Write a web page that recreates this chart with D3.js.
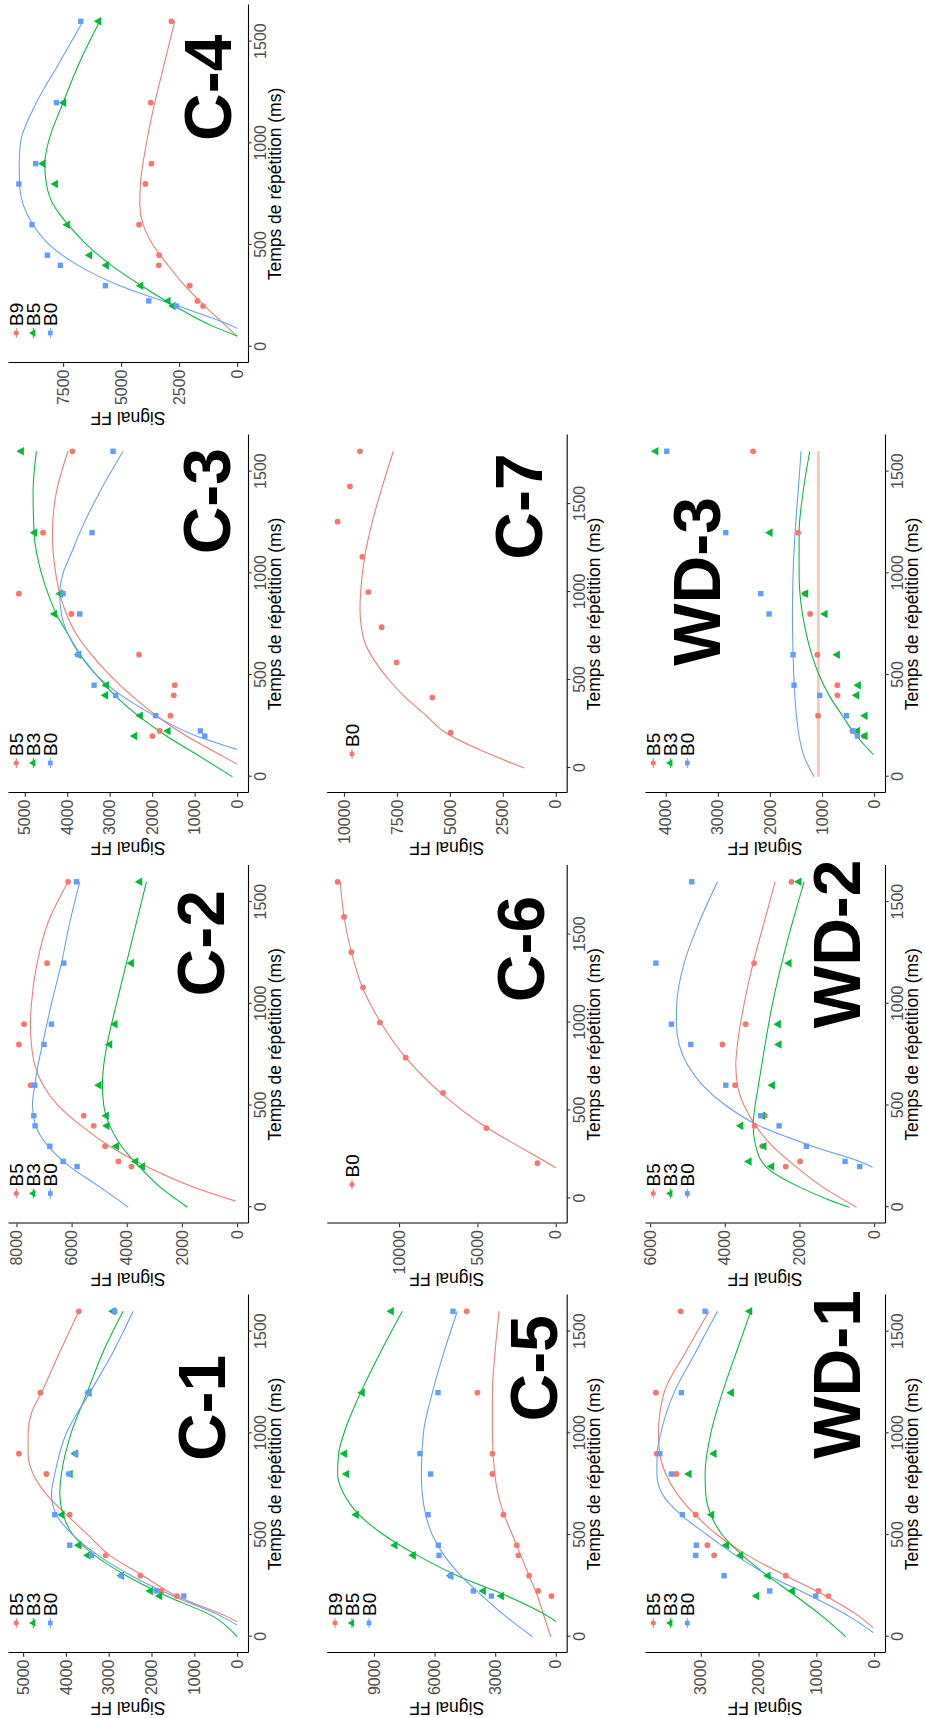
<!DOCTYPE html>
<html><head><meta charset="utf-8">
<script src="https://cdn.jsdelivr.net/npm/d3@7"></script>
<style>
body{margin:0;background:#fff}
svg{display:block}
text{font-family:"Liberation Sans",Arial,Helvetica,sans-serif}
</style>
</head><body>
<svg id="chart" width="925" height="1718"></svg>
<script>
// ---------- DATA ----------
const trA = [200,225,300,400,450,600,800,900,1200,1600];
const trB = [200,400,600,800,1000,1200,1400,1600,1800];
const rangeA = [0,1600];
const rangeB = [-50,1800];
const xTickVals = [0,500,1000,1500];
const levels3 = ["B5","B3","B0"];
const levels3b = ["B9","B5","B0"];
const levels1 = ["B0"];
const xTitle = "Temps de répétition (ms)";
const yTitle = "Signal FF";

// C-1
const c1_B5 = [1402,1768,2259,3069,3676,3910,4455,5098,4595,3699];
const c1_B3 = [1807,2025,2702,3481,3699,4089,3900,3780,3458,2897];
const c1_B0 = [1246,1885,2702,3403,3910,4260,3925,3769,3481,2858];
const c1_fB5 = [[74,0],[100,250],[200,1417],[300,2196],[400,2975],[500,3481],[600,3988],[700,4455],[800,4766],[900,4883],[1000,4883],[1100,4805],[1200,4572],[1400,4143],[1600,3699]];
const c1_fB3 = [[0,0],[100,561],[200,1651],[300,2586],[400,3326],[500,3832],[600,4065],[700,4143],[800,4104],[1000,3880],[1200,3505],[1400,3131],[1600,2664]];
const c1_fB0 = [[57,0],[100,366],[200,1495],[300,2469],[400,3248],[500,3832],[600,4221],[700,4338],[800,4260],[1000,3990],[1200,3442],[1400,2897],[1600,2430]];
const c1_yTicks = [0,1000,2000,3000,4000,5000];
const c1_label = [1125,848];

// C-2
const c2_B5 = [3831,4303,4786,5197,5560,7481,7911,7723,6889,6128];
const c2_B3 = [3432,3674,4375,4713,4738,5004,4617,4423,3831,3529];
const c2_B0 = [5801,6309,6792,7324,7372,7336,7000,6732,6285,5825];
const c2_fB5 = [[30,50],[100,1600],[200,3287],[300,4617],[400,5644],[500,6490],[600,7034],[700,7336],[800,7457],[900,7493],[1000,7457],[1200,7252],[1400,6853],[1600,6128]];
const c2_fB3 = [[0,1800],[100,2800],[200,3553],[300,4194],[400,4617],[500,4834],[600,4883],[700,4834],[800,4714],[1000,4375],[1200,4013],[1400,3650],[1600,3287]];
const c2_fB0 = [[0,3952],[100,4979],[200,6067],[300,6853],[400,7300],[500,7421],[600,7336],[700,7215],[800,7058],[1000,6732],[1200,6369],[1400,6067],[1600,5705]];
const c2_yTicks = [0,2000,4000,6000,8000];
const c2_label = [1298,1352];

// C-3
const c3_B5 = [1994,1821,1570,1491,1468,2308,3901,5137,4568,3878];
const c3_B3 = [2410,1625,2276,3093,3077,3728,4294,4160,4765,5078];
const c3_B0 = [761,863,1915,2857,3367,3744,3705,4097,3414,2920];
const c3_fB5 = [[62,0],[100,330],[200,1193],[300,1900],[400,2488],[500,2998],[600,3430],[700,3783],[800,4019],[900,4176],[1000,4270],[1200,4348],[1400,4254],[1600,3980]];
const c3_fB3 = [[0,110],[100,879],[200,1664],[300,2331],[400,2881],[500,3312],[600,3689],[700,3980],[800,4254],[900,4451],[1000,4607],[1200,4780],[1400,4804],[1600,4725]];
const c3_fB0 = [[134,0],[200,958],[300,1939],[400,2724],[500,3312],[600,3705],[700,3980],[800,4137],[900,4176],[1000,4097],[1100,3901],[1200,3705],[1400,3234],[1600,2684]];
const c3_yTicks = [0,1000,2000,3000,4000,5000];
const c3_label = [1355,725];

// C-4
const c4_B9 = [1466,1710,2040,3376,3362,4224,3951,3693,3721,2830];
const c4_B5 = [2759,2974,4152,5632,6351,7313,7830,8362,7471,5963];
const c4_B0 = [2615,3807,5675,7615,8175,8836,9404,8678,7787,6739];
const c4_fB9 = [[50,0],[100,460],[200,1394],[300,2256],[400,2974],[500,3621],[600,4052],[700,4195],[800,4167],[1000,3908],[1200,3549],[1400,3118],[1600,2687]];
const c4_fB5 = [[53,0],[100,1034],[200,2687],[300,4124],[400,5417],[500,6466],[600,7284],[700,7931],[800,8218],[900,8290],[1000,8147],[1200,7500],[1400,6782],[1600,5920]];
const c4_fB0 = [[90,0],[100,172],[200,2543],[300,5057],[400,6853],[500,8075],[600,8793],[700,9224],[800,9380],[900,9390],[1000,9340],[1200,8649],[1400,7644],[1600,6638]];
const c4_yTicks = [0,2500,5000,7500];
const c4_label = [1273,1284];

// C-5
const c5_B9 = [215,875,1321,1849,1932,2592,3137,3137,3880,4409];
const c5_B5 = [2692,3583,5201,7051,7959,9874,10353,10452,9577,8141];
const c5_B0 = [3187,4079,5201,5779,5812,6324,6192,6721,5829,5086];
const c5_fB9 = [[0,248],[100,578],[200,908],[300,1321],[400,1734],[500,2147],[600,2559],[700,2857],[800,3022],[1000,3137],[1200,3137],[1400,3005],[1600,2807]];
const c5_fB5 = [[75,0],[100,380],[200,2394],[300,4871],[400,6853],[500,8504],[600,9742],[700,10485],[800,10800],[900,10750],[1000,10485],[1200,9660],[1400,8669],[1600,7596]];
const c5_fB0 = [[0,1156],[100,2477],[200,3633],[300,4706],[400,5532],[500,6110],[600,6440],[700,6605],[800,6655],[1000,6555],[1200,6110],[1400,5532],[1600,4871]];
const c5_yTicks = [0,3000,6000,9000];
const c5_label = [1320,1114];

// C-6
const c6_B0 = [1170,4426,7191,9574,11213,12298,13043,13511,13920];
const c6_fB0 = [[174,0],[200,489],[300,2447],[400,4362],[600,7340],[800,9574],[1000,11170],[1200,12340],[1400,13043],[1600,13511],[1800,13750]];
const c6_yTicks = [0,5000,10000];
const c6_label = [1418,2285];

// C-7
const c7_B0 = [4961,5827,7512,8220,8850,9134,10300,9717,9244];
const c7_fB0 = [[0,1496],[100,3543],[200,5197],[300,6142],[400,7087],[500,7874],[600,8504],[700,8976],[800,9181],[900,9244],[1000,9213],[1200,9024],[1400,8661],[1600,8189],[1800,7669]];
const c7_yTicks = [0,2500,5000,7500,10000];
const c7_label = [1486,1771];

// WD-1
const wd1_B5 = [791,964,1529,2770,2885,3087,3422,3762,3777,3347];
const wd1_B3 = [2031,1414,1835,2308,2556,2810,3203,2770,2470,2152];
const wd1_B0 = [1010,1806,2597,3087,3076,3318,3508,3710,3335,2926];
const wd1_fB5 = [[45,17],[100,260],[200,837],[300,1529],[400,2193],[500,2712],[600,3099],[700,3405],[800,3606],[900,3710],[1000,3733],[1200,3635],[1400,3260],[1600,2856]];
const wd1_fB3 = [[0,490],[100,894],[200,1356],[300,1846],[400,2279],[500,2626],[600,2827],[700,2914],[800,2926],[1000,2827],[1200,2626],[1400,2383],[1600,2135]];
const wd1_fB0 = [[21,17],[100,433],[200,1096],[300,1818],[400,2395],[500,2885],[600,3347],[700,3664],[800,3760],[900,3755],[1000,3693],[1200,3462],[1400,3087],[1600,2712]];
const wd1_yTicks = [0,1000,2000,3000];
const wd1_label = [1290,651];

// WD-2
const wd2_B5 = [2366,1982,2991,3200,2929,3723,4063,3438,3214,2214];
const wd2_B3 = [2741,3348,2950,3571,2991,2723,2545,2563,2277,2009];
const wd2_B0 = [384,777,1813,2545,3036,3973,4911,5429,5845,4884];
const wd2_fB5 = [[0,470],[100,1384],[200,2098],[300,2723],[400,3170],[500,3482],[600,3661],[700,3705],[800,3661],[1000,3482],[1200,3241],[1400,2946],[1600,2652]];
const wd2_fB3 = [[0,670],[36,1205],[100,2009],[200,2902],[300,3170],[400,3241],[500,3188],[600,3098],[800,2920],[1000,2723],[1200,2473],[1400,2188],[1600,1875]];
const wd2_fB0 = [[195,45],[200,89],[300,1652],[400,3080],[500,3973],[600,4598],[700,5000],[800,5223],[900,5295],[1000,5286],[1200,5089],[1400,4688],[1600,4196]];
const wd2_yTicks = [0,2000,4000,6000];
const wd2_label = [1295,1007];

// WD-3
const wd3_B5 = [192,416,1075,704,704,1088,1229,1331,1459,2323];
const wd3_B3 = [173,320,173,333,301,704,941,1312,1997,4189];
const wd3_B0 = [320,403,531,1043,1536,1555,2016,2176,2848,3981];
const wd3_fB5 = [[0,1069],[1600,1069]];
const wd3_fB3 = [[110,19],[200,339],[300,608],[400,864],[500,1056],[600,1197],[700,1299],[800,1376],[1000,1440],[1200,1440],[1400,1363],[1600,1235]];
const wd3_fB0 = [[0,1152],[100,1344],[200,1440],[300,1491],[400,1523],[600,1555],[800,1568],[1000,1555],[1200,1517],[1400,1459],[1600,1402]];
const wd3_yTicks = [0,1000,2000,3000,4000];
const wd3_label = [960,3420];

const colors3 = ["#F8766D","#00BA38","#619CFF"];
const shapes3 = [d3.symbolCircle, d3.symbolTriangle, d3.symbolSquare];

const panels = [
  {name:"C-1", row:0, col:0, tr:trA, xr:rangeA, lv:levels3,  pts:[c1_B5,c1_B3,c1_B0], fits:[c1_fB5,c1_fB3,c1_fB0], yt:c1_yTicks, lab:c1_label},
  {name:"C-2", row:0, col:1, tr:trA, xr:rangeA, lv:levels3,  pts:[c2_B5,c2_B3,c2_B0], fits:[c2_fB5,c2_fB3,c2_fB0], yt:c2_yTicks, lab:c2_label},
  {name:"C-3", row:0, col:2, tr:trA, xr:rangeA, lv:levels3,  pts:[c3_B5,c3_B3,c3_B0], fits:[c3_fB5,c3_fB3,c3_fB0], yt:c3_yTicks, lab:c3_label},
  {name:"C-4", row:0, col:3, tr:trA, xr:rangeA, lv:levels3b, pts:[c4_B9,c4_B5,c4_B0], fits:[c4_fB9,c4_fB5,c4_fB0], yt:c4_yTicks, lab:c4_label},
  {name:"C-5", row:1, col:0, tr:trA, xr:rangeA, lv:levels3b, pts:[c5_B9,c5_B5,c5_B0], fits:[c5_fB9,c5_fB5,c5_fB0], yt:c5_yTicks, lab:c5_label},
  {name:"C-6", row:1, col:1, tr:trB, xr:rangeB, lv:levels1,  pts:[c6_B0], fits:[c6_fB0], yt:c6_yTicks, lab:c6_label},
  {name:"C-7", row:1, col:2, tr:trB, xr:rangeB, lv:levels1,  pts:[c7_B0], fits:[c7_fB0], yt:c7_yTicks, lab:c7_label},
  {name:"WD-1", row:2, col:0, tr:trA, xr:rangeA, lv:levels3, pts:[wd1_B5,wd1_B3,wd1_B0], fits:[wd1_fB5,wd1_fB3,wd1_fB0], yt:wd1_yTicks, lab:wd1_label},
  {name:"WD-2", row:2, col:1, tr:trA, xr:rangeA, lv:levels3, pts:[wd2_B5,wd2_B3,wd2_B0], fits:[wd2_fB5,wd2_fB3,wd2_fB0], yt:wd2_yTicks, lab:wd2_label},
  {name:"WD-3", row:2, col:2, tr:trA, xr:rangeA, lv:levels3, pts:[wd3_B5,wd3_B3,wd3_B0], fits:[wd3_fB5,wd3_fB3,wd3_fB0], yt:wd3_yTicks, lab:wd3_label, flat:true}
];

// ---------- LAYOUT (original, un-rotated frame 1718 x 925) ----------
const colLeft = [65, 494.5, 925, 1355];
const rowTop = [8, 326.7, 645];
const plotW = 358, plotH = 240;

const svg = d3.select("#chart");
svg.append("rect").attr("width",925).attr("height",1718).attr("fill","#fff");
const root = svg.append("g").attr("transform","translate(0,1718) rotate(-90)");

function expand(lo, hi){ const p = (hi-lo)*0.05; return [lo-p, hi+p]; }

panels.forEach(P => {
  const L = colLeft[P.col], T = rowTop[P.row];
  const g = root.append("g");
  const x = d3.scaleLinear().domain(expand(P.xr[0], P.xr[1])).range([L, L+plotW]);
  const allY = [0];
  P.pts.forEach(a => a.forEach(v => allY.push(v)));
  P.fits.forEach(a => a.forEach(d => allY.push(d[1])));
  const y = d3.scaleLinear().domain(expand(d3.min(allY), d3.max(allY))).range([T+plotH, T]);

  const n = P.lv.length;
  const cols = n === 1 ? ["#F8766D"] : colors3;

  // fitted curves
  const line = d3.line().x(d => x(d[0])).y(d => y(d[1])).curve(d3.curveMonotoneX);
  P.fits.forEach((f, i) => {
    const flat = P.flat && i === 0;
    g.append("path").attr("d", line(f)).attr("fill","none")
      .attr("stroke", cols[i]).attr("stroke-width", flat ? 2.6 : 1.05)
      .attr("stroke-opacity", flat ? 0.45 : 1);
  });

  // points
  P.pts.forEach((arr, i) => {
    const sym = d3.symbol().type(shapes3[i]).size(i===0 ? 26 : (i===1 ? 32 : 29));
    g.append("g").selectAll("path").data(arr).join("path")
      .attr("d", sym)
      .attr("transform", (v, k) => `translate(${x(P.tr[k])},${y(v)})`)
      .attr("fill", cols[i]);
  });

  // axes
  const ax = g.append("g").attr("transform", `translate(0,${T+plotH})`)
    .call(d3.axisBottom(x).tickValues(xTickVals).tickFormat(d3.format("d")).tickSize(3.7).tickSizeOuter(0).tickPadding(2.8));
  const ay = g.append("g").attr("transform", `translate(${L},0)`)
    .call(d3.axisLeft(y).tickValues(P.yt).tickFormat(d3.format("d")).tickSize(3.7).tickSizeOuter(0).tickPadding(2.8));
  [ax, ay].forEach(a => {
    a.select(".domain").attr("stroke","#000").attr("stroke-width",1.1);
    a.selectAll(".tick line").attr("stroke","#333").attr("stroke-width",1.1);
    a.selectAll(".tick text").attr("fill","#4D4D4D").attr("font-size",16)
      .attr("font-family","'Liberation Sans',Arial,sans-serif");
  });

  // axis titles
  g.append("text").attr("x", L + plotW/2).attr("y", T + plotH + 33)
    .attr("text-anchor","middle").attr("font-size",17.5).attr("fill","#000").text(xTitle);
  g.append("text").attr("transform", `translate(${L-49},${T+plotH/2}) rotate(-90)`)
    .attr("text-anchor","middle").attr("font-size",17.5).attr("fill","#000").text(yTitle);

  // legend
  const kx = L + (n === 1 ? 39 : 30);
  const kyc = T + 25.3;
  P.lv.forEach((lab, i) => {
    const ky = kyc + (i - (n-1)/2) * 17;
    g.append("line").attr("x1", kx-5).attr("x2", kx+5).attr("y1", ky).attr("y2", ky)
      .attr("stroke", cols[i]).attr("stroke-width", 1);
    g.append("path").attr("d", d3.symbol().type(shapes3[i]).size(i===0?20:(i===1?24:22)))
      .attr("transform", `translate(${kx},${ky})`).attr("fill", cols[i]);
    g.append("text").attr("x", kx + 7).attr("y", ky).attr("dy","0.36em")
      .attr("font-size",19).attr("fill","#000").text(lab);
  });

  // big panel label
  g.append("text").attr("x", x(P.lab[0])).attr("y", y(P.lab[1])).attr("dy","0.36em")
    .attr("text-anchor","middle").attr("font-size",66).attr("font-weight","bold")
    .attr("fill","#000").text(P.name);
});
</script>
</body></html>
